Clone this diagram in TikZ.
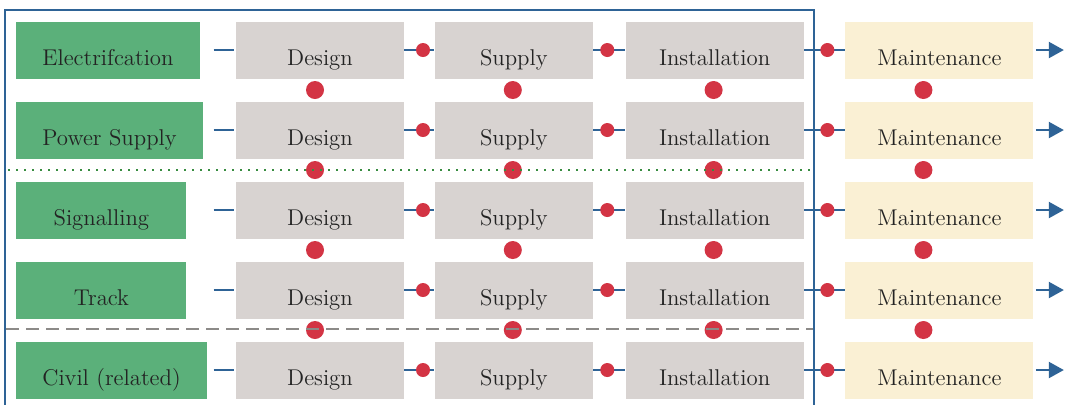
\documentclass[tikz,border=0pt]{standalone}
\usetikzlibrary{positioning,arrows.meta}
\definecolor{StageGreen}{RGB}{91,176,122}
\definecolor{WorkGrey}{RGB}{216,211,209}
\definecolor{MaintCream}{RGB}{250,240,212}
\definecolor{LineBlue}{RGB}{46,99,150}
\definecolor{JointRed}{RGB}{211,52,68}
\definecolor{SepGreen}{RGB}{56,140,64}
\definecolor{SepGrey}{RGB}{140,138,136}
\definecolor{TextGrey}{RGB}{35,35,35}
\tikzset{
  link/.style={line width=1.1pt,draw=LineBlue},
  flow/.style={-{Triangle[length=7.5pt,width=8pt]},line width=1.1pt,draw=LineBlue},
  frame/.style={line width=1.3pt,draw=LineBlue},
  box/.style={minimum height=28.5pt,inner xsep=0pt,text height=15pt,text depth=0pt,
    font=\fontsize{11.4}{13.5}\selectfont,text=TextGrey},
  discbox/.style={box,fill=StageGreen,minimum width=85pt,inner xsep=13pt,anchor=west},
  workbox/.style={box,fill=WorkGrey},
  mainbox/.style={box,fill=MaintCream,minimum width=94pt},
  joint/.style={circle,fill=JointRed,inner sep=0pt,minimum size=7pt},
  bigjoint/.style={circle,fill=JointRed,inner sep=0pt,minimum size=9pt},
  greensep/.style={line width=1.2pt,draw=SepGreen,dash pattern=on 1pt off 3pt},
  greysep/.style={line width=1.3pt,draw=SepGrey,dash pattern=on 6.5pt off 3.5pt}
}
\begin{document}
\begin{tikzpicture}
  \useasboundingbox[fill=white] (0,0) rectangle (534pt,-202pt);
  % one row per discipline
  \foreach \discipline [count=\r] in {Electrifcation,Power Supply,Signalling,Track,{Civil (related)}} {
    \pgfmathsetmacro{\rowy}{-25-40*(\r-1)}
    \node[discbox] (g\r) at (8pt,\rowy pt) {\discipline};
    \node[workbox,minimum width=84pt] (d\r) at (160pt,\rowy pt) {Design};
    \node[workbox,minimum width=79pt,right=15pt of d\r] (s\r) {Supply};
    \node[workbox,minimum width=89pt,right=16pt of s\r] (i\r) {Installation};
    \node[mainbox,right=20.5pt of i\r] (m\r) {Maintenance};
    \draw[link] ([xshift=-11pt]d\r.west) -- ([xshift=-1pt]d\r.west);
    \draw[link] (d\r) -- (s\r) node[joint,pos=0.62] {};
    \draw[link] (s\r) -- (i\r) node[joint,pos=0.44] {};
    \draw[link] (i\r) -- (m\r) node[joint,pos=0.57] {};
    \draw[flow] ([xshift=1pt]m\r.east) -- ++(14pt,0);
  }
  % joints between neighbouring rows
  \foreach \r [evaluate=\r as \n using int(\r+1)] in {1,...,4} {
    \path (d\r) -- (d\n) node[bigjoint,midway,xshift=-2.5pt] (vd\r) {};
    \path (s\r) -- (s\n) node[bigjoint,midway,xshift=-0.5pt] (vs\r) {};
    \path (i\r) -- (i\n) node[bigjoint,midway,xshift=-0.5pt] (vi\r) {};
    \path (m\r) -- (m\n) node[bigjoint,midway,xshift=-8pt] (vm\r) {};
  }
  \draw[greensep] (4pt,-85pt) -- (407pt,-85pt);
  \draw[greysep] (3pt,-164.5pt) -- (407pt,-164.5pt);
  % open frame round the delivery part
  \draw[frame] (2.5pt,-215pt) |- (407pt,-5pt) -- (407pt,-215pt);
\end{tikzpicture}
\end{document}
